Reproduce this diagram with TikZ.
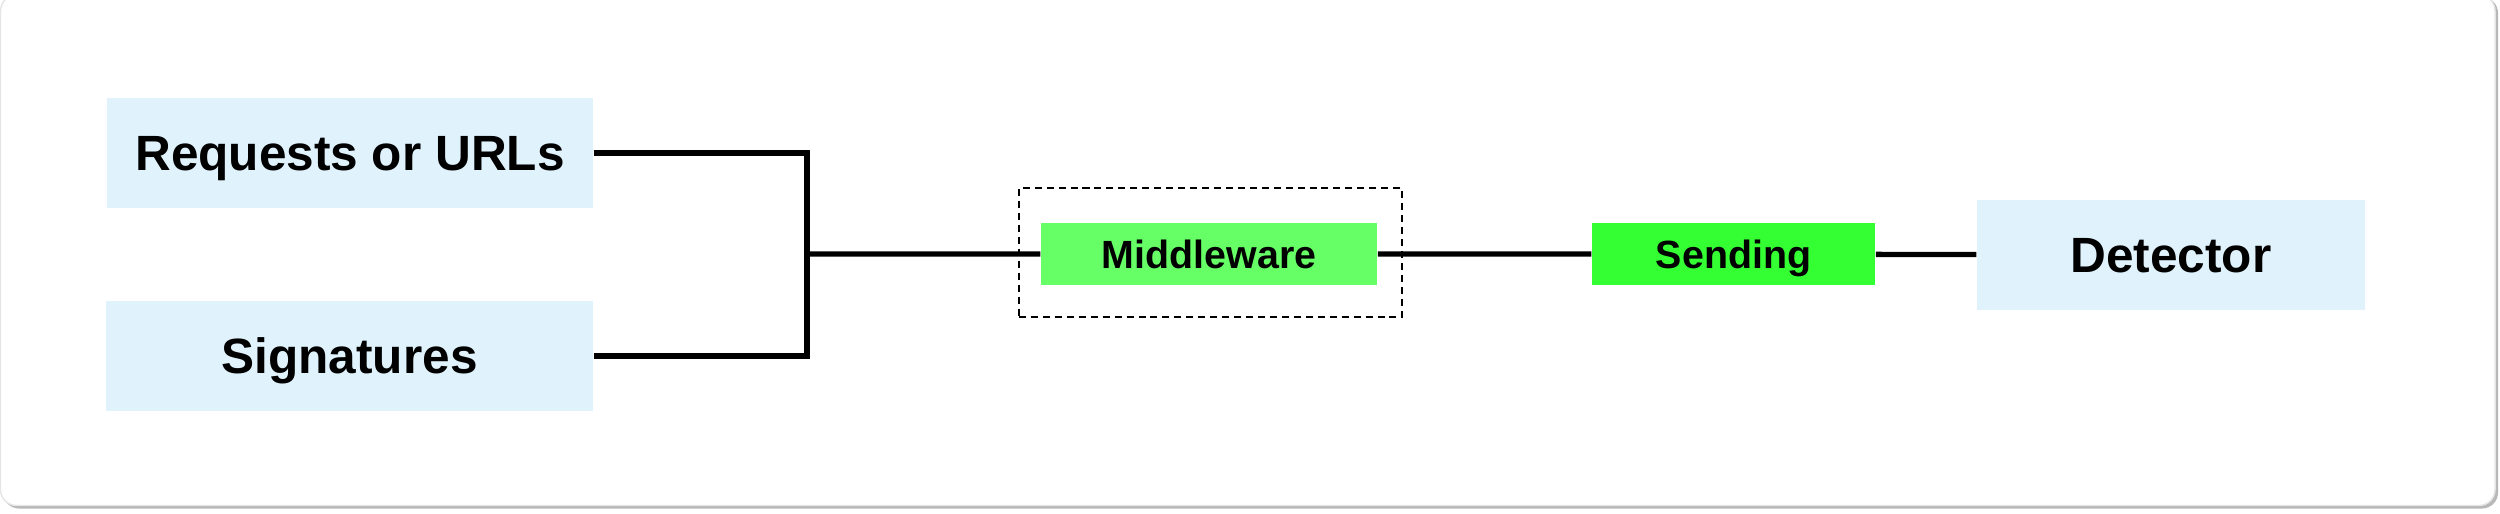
\documentclass[tikz,border=0pt]{standalone}
\usepackage{fontspec}
\setmainfont{Liberation Sans}
\definecolor{boxblue}{HTML}{E0F3FC}
\definecolor{mwgreen}{HTML}{66FF66}
\definecolor{sendgreen}{HTML}{33FF33}
\begin{document}
\begin{tikzpicture}[scale=0.1]
			\tikzstyle{every node}+=[inner sep=0pt, text depth=0pt]
			\tikzstyle{bigbox}=[fill=boxblue, minimum height=11mm, text height=10.1pt, font=\fontsize{14.1}{16}\selectfont\bfseries]
			\tikzstyle{smallbox}=[minimum height=6.2mm, text height=8pt, font=\fontsize{11.2}{13}\selectfont\bfseries]
			\tikzstyle{wire}=[black, line width=1.5pt]
			\useasboundingbox (0,0) rectangle (250,-51.3);
			\fill [black!28, rounded corners=1.6mm] (0.3,0.3) rectangle (249.8,-50.85);
			\draw [black!10, fill=white, rounded corners=1.6mm] (0.05,0.5) rectangle (249.5,-50.55);
			\node [bigbox, minimum width=48.6mm] (req) at (35,-15.3) {Requests or URLs};
			\node [bigbox, minimum width=48.7mm] (sig) at (34.95,-35.6) {Signatures};
			\node [draw, dashed, line width=0.45pt, dash pattern=on 2pt off 1.4pt, minimum width=38.3mm, minimum height=12.9mm] (mwframe) at (121.05,-25.25) {};
			\node [smallbox, fill=mwgreen, minimum width=33.6mm] (mw) at (120.9,-25.4) {Middleware};
			\node [smallbox, fill=sendgreen, minimum width=28.3mm] (snd) at (173.35,-25.4) {Sending};
			\node [bigbox, minimum width=38.8mm] (det) at (217.1,-25.5) {Detector};
			\coordinate (join) at (80.7,-25.4);
			\draw [wire] (req.east) -| (join) |- (sig.east);
			\draw [wire] (join) -- (mw);
			\draw [wire] (mw) -- (snd);
			\draw [wire] (snd) -- (det);
		\end{tikzpicture}
\end{document}
